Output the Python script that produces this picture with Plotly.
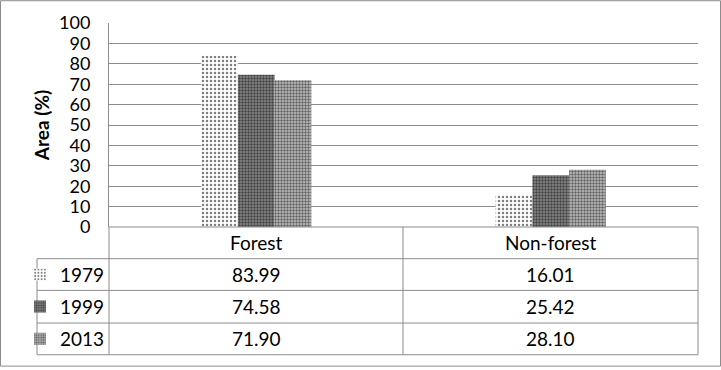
import plotly.graph_objects as go

categories = ["Forest", "Non-forest"]
years = ["1979", "1999", "2013"]
values_1979 = [83.99, 16.01]
values_1999 = [74.58, 25.42]
values_2013 = [71.90, 28.10]
series = [values_1979, values_1999, values_2013]
y_ticks = list(range(0, 101, 10))

W, H = 721, 370
L, R, T, B = 109, 698, 23, 229  # plot area pixel edges
PW, PH = R - L, B - T

def px(x):
    return (x - L) / PW

def py(y):
    return (B - y) / PH

FONT = "Lato"
FS = 19
FS_TICK = 18
GRID = "#8c8c8c"

patterns = [
    dict(shape=".", size=4, solidity=0.3, fgcolor="black", bgcolor="white", fillmode="overlay"),
    dict(shape=".", size=3, solidity=0.5, fgcolor="black", bgcolor="#8a8a8a", fillmode="overlay"),
    dict(shape=".", size=3, solidity=0.5, fgcolor="black", bgcolor="#c4c4c4", fillmode="overlay"),
]

fig = go.Figure()
row_centers = [277, 309.5, 342]
legend_keys = ["legend", "legend2", "legend3"]
for i, (yr, vals) in enumerate(zip(years, series)):
    fig.add_trace(go.Bar(
        x=categories, y=vals, name=yr,
        marker=dict(color="white", line=dict(width=0), pattern=patterns[i]),
        legend=legend_keys[i], showlegend=True,
    ))

shapes = []
def line(x0, y0, x1, y1):
    shapes.append(dict(type="line", xref="paper", yref="paper",
                       x0=px(x0), y0=py(y0), x1=px(x1), y1=py(y1),
                       line=dict(color=GRID, width=1)))

# table horizontal lines
for yy in [261, 293, 326, 358]:
    line(37, yy, 698, yy)
line(109, 229, 698, 229)
# table vertical lines
line(37, 261, 37, 358)
line(109, 229, 109, 358)
line(403, 229, 403, 358)
line(698, 229, 698, 358)
# outer border
shapes.append(dict(type="rect", xref="paper", yref="paper",
                   x0=px(0.5), y0=py(369.5), x1=px(720.5), y1=py(0.5),
                   line=dict(color=GRID, width=1), fillcolor="rgba(0,0,0,0)", layer="below"))

annotations = []
col_centers = [256, 550.5]
for c, cx in zip(categories, col_centers):
    annotations.append(dict(text=c, x=px(cx), y=py(245), xref="paper", yref="paper",
                            showarrow=False, xanchor="center", yanchor="middle",
                            font=dict(family=FONT, size=FS, color="black")))
for vals, ry in zip(series, row_centers):
    for v, cx in zip(vals, col_centers):
        annotations.append(dict(text=f"{v:.2f}", x=px(cx), y=py(ry), xref="paper", yref="paper",
                                showarrow=False, xanchor="center", yanchor="middle",
                                font=dict(family=FONT, size=FS, color="black")))

layout_legends = {}
for key, ry in zip(legend_keys, row_centers):
    layout_legends[key] = dict(
        x=px(20), y=py(ry), xanchor="left", yanchor="middle",
        bgcolor="rgba(0,0,0,0)", borderwidth=0,
        font=dict(family=FONT, size=FS, color="black"),
        itemclick=False, itemdoubleclick=False,
    )

fig.update_layout(
    width=W, height=H,
    margin=dict(l=L, r=W - R, t=T, b=H - B, pad=0),
    paper_bgcolor="white", plot_bgcolor="white",
    barmode="group", bargap=0.626, bargroupgap=0,
    font=dict(family=FONT, size=FS, color="black"),
    xaxis=dict(showticklabels=False, showgrid=False, zeroline=False, showline=False, ticks=""),
    yaxis=dict(range=[0, 100], tickvals=y_ticks, showgrid=True, gridcolor=GRID, gridwidth=1,
               zeroline=False, showline=True, linecolor=GRID, linewidth=1, ticks="",
               ticklabelstandoff=14,
               title=dict(text="<b>Area (%)</b>", font=dict(family=FONT, size=FS, color="black"), standoff=4),
               tickfont=dict(family=FONT, size=FS_TICK, color="black")),
    shapes=shapes, annotations=annotations,
    **layout_legends,
)

fig.write_html("out.html")
